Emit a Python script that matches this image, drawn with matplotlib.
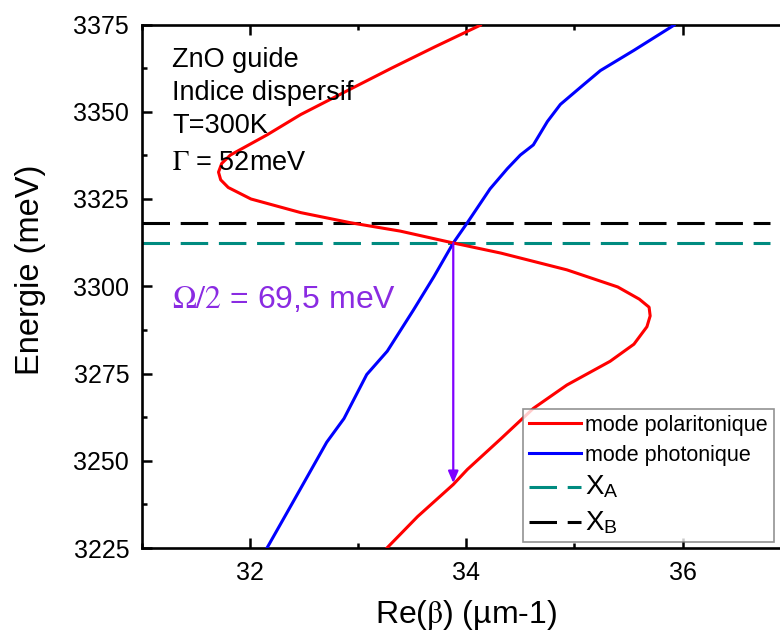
import matplotlib
matplotlib.use("Agg")
import matplotlib.pyplot as plt
from matplotlib.ticker import MultipleLocator

plt.rcParams['font.family'] = ['Liberation Sans', 'DejaVu Sans']
plt.rcParams['mathtext.fontset'] = 'stix'

# mode polaritonique (red)
pol_beta = [34.13, 33.71, 33.31, 32.93, 32.47, 32.16, 31.82, 31.74, 31.71, 31.73,
            31.80, 32.01, 32.47, 32.93, 33.39, 33.88, 34.32, 34.93, 35.40, 35.60,
            35.69, 35.70, 35.67, 35.55, 35.33, 34.93, 34.62, 34.32, 34.01, 33.88,
            33.55, 33.27]
pol_E = [3374.8, 3368.6, 3362.5, 3356.5, 3349.2, 3343.4, 3337.6, 3335.2, 3332.7, 3330.5,
         3328.3, 3325.0, 3321.1, 3318.2, 3315.8, 3312.4, 3309.5, 3304.7, 3299.8, 3296.3,
         3294.0, 3291.5, 3288.4, 3283.4, 3278.5, 3271.7, 3265.0, 3256.3, 3247.5, 3243.2,
         3234.0, 3225.1]

# mode photonique (blue)
pho_beta = [32.16, 32.41, 32.71, 32.87, 33.08, 33.27, 33.51, 33.70, 33.88, 34.01,
            34.22, 34.38, 34.50, 34.62, 34.75, 34.87, 35.09, 35.24, 35.55, 35.92]
pho_E = [3225.1, 3238.8, 3255.3, 3262.1, 3274.7, 3281.4, 3293.1, 3302.7, 3312.4, 3318.2,
         3327.9, 3333.7, 3337.6, 3340.5, 3347.2, 3352.1, 3357.9, 3361.8, 3367.6, 3374.8]

E_XA = 3312.4
E_XB = 3318.1
line_span = [31.0, 36.81]
arrow_beta = 33.88
arrow_E = [3312.4, 3243.6]

info_lines = ["ZnO guide", "Indice dispersif", "T=300K", r"$\Gamma$ = 52meV"]
info_baselines = [66.7, 100, 133, 170]

W, H = 780, 644
fig = plt.figure(figsize=(W / 100, H / 100), dpi=100)
ax = fig.add_axes([141.7 / W, 1 - 548 / H, 649.1 / W, 523.5 / H])


def fpos(px, py):
    return px / W, 1 - py / H


ax.plot(pol_beta, pol_E, color='#ff0000', lw=2.2, label='mode polaritonique', zorder=4)
ax.plot(pho_beta, pho_E, color='#0000ff', lw=2.2, label='mode photonique', zorder=3)
ax.plot(line_span, [E_XA, E_XA], color='#008b80', lw=2.2, dashes=(9, 3.5),
        label=r'X$_\mathregular{A}$', zorder=2)
ax.plot(line_span, [E_XB, E_XB], color='black', lw=2.2, dashes=(9, 3.5),
        label=r'X$_\mathregular{B}$', zorder=2)

ax.annotate('', xy=(arrow_beta, arrow_E[1]), xytext=(arrow_beta, arrow_E[0]),
            arrowprops=dict(arrowstyle='-|>,head_length=0.7,head_width=0.3',
                            color='#8000ff', lw=1.6, shrinkA=0, shrinkB=0), zorder=5)

ax.set_xlim(31, 37)
ax.set_ylim(3225, 3375)
ax.xaxis.set_major_locator(MultipleLocator(2))
ax.xaxis.set_minor_locator(MultipleLocator(1))
ax.yaxis.set_major_locator(MultipleLocator(25))
ax.yaxis.set_minor_locator(MultipleLocator(12.5))
ax.tick_params(which='both', direction='in', top=True, right=True, width=1.8)
ax.tick_params(which='major', length=7, labelsize=18, pad=9)
ax.tick_params(which='minor', length=3.8)
for s in ax.spines.values():
    s.set_linewidth(1.9)

ax.set_xlabel(r'Re($\mathrm{\beta}$) (µm-1)', fontsize=23, labelpad=10)
ax.set_ylabel('Energie (meV)', fontsize=23.5)
ax.yaxis.set_label_coords(-0.148, 0.531)

for txt, yb in zip(info_lines, info_baselines):
    fig.text(*fpos(172, yb), txt, fontsize=19.5, va='baseline', ha='left')

fig.text(*fpos(171.7, 308), r'$\Omega/2$ = 69,5 meV', fontsize=23, color='#8a2be2',
         va='baseline', ha='left')

leg = ax.legend(loc='upper left', bbox_to_anchor=fpos(522.7, 408.5),
                bbox_transform=fig.transFigure, fontsize=15.5, frameon=True,
                fancybox=False, handlelength=2.4, handletextpad=0.2,
                labelspacing=0.4, borderpad=0.3, borderaxespad=0)
for t in leg.get_texts()[2:]:
    t.set_fontsize(20)
leg.get_frame().set_edgecolor('#777777')
leg.get_frame().set_linewidth(1.2)

fig.savefig('out.png', dpi=100)
